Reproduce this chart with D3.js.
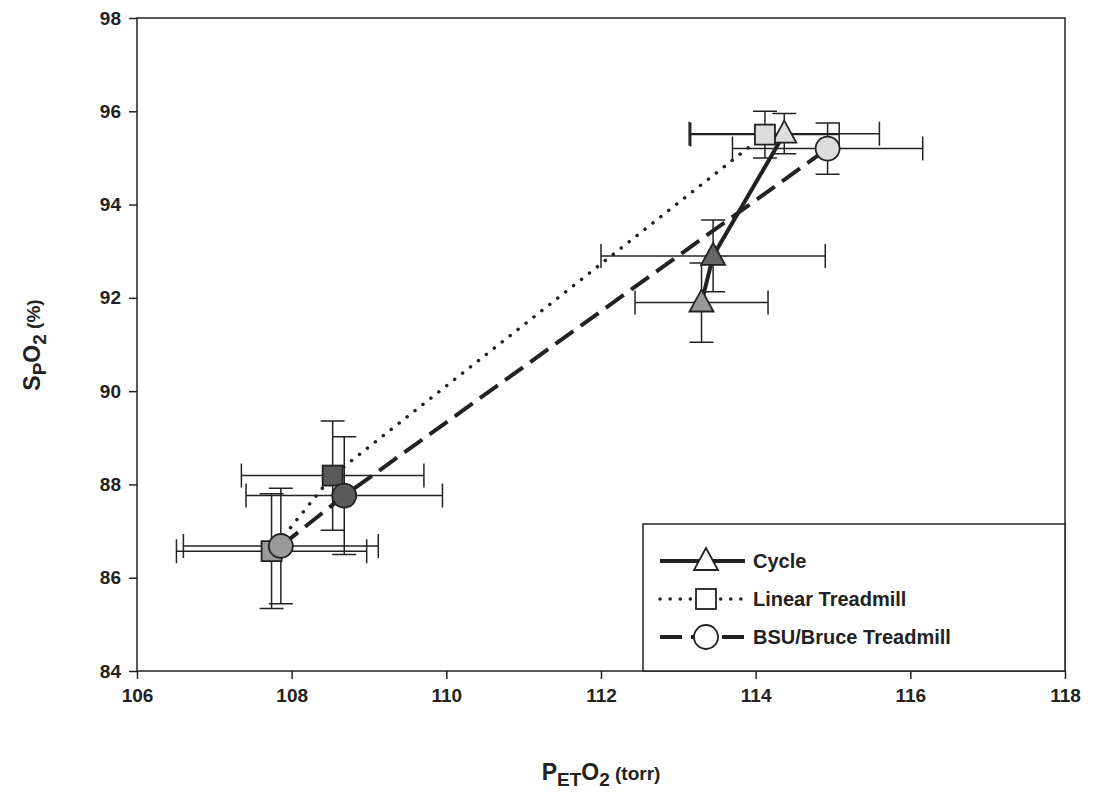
<!DOCTYPE html><html><head><meta charset="utf-8"><script src="https://cdn.jsdelivr.net/npm/d3@7"></script>
<style>body{margin:0;background:#fff}text{font-family:Arial,"Liberation Sans",sans-serif;font-weight:bold;fill:#222}</style></head><body><svg id="c" width="1095" height="793"></svg><script>
const xTicks=[106,108,110,112,114,116,118];
const yTicks=[84,86,88,90,92,94,96,98];
const cycle=[{x:113.3,y:91.9,ex:0.86,ey:0.85,f:"#999"},{x:113.45,y:92.9,ex:1.45,ey:0.77,f:"#666"},{x:114.37,y:95.52,ex:1.23,ey:0.43,f:"#ddd"}];
const linear=[{x:107.74,y:86.57,ex:1.23,ey:1.23,f:"#999"},{x:108.53,y:88.19,ex:1.18,ey:1.17,f:"#5a5a5a"},{x:114.12,y:95.5,ex:0.96,ey:0.5,f:"#ddd"}];
const bsu=[{x:107.86,y:86.68,ex:1.26,ey:1.24,f:"#999"},{x:108.68,y:87.76,ex:1.27,ey:1.26,f:"#5a5a5a"},{x:114.93,y:95.2,ex:1.23,ey:0.55,f:"#ddd"}];
const series=[{name:"Cycle",d:cycle,shape:"tri",dash:null},{name:"Linear Treadmill",d:linear,shape:"sq",dash:"0.1,10"},{name:"BSU/Bruce Treadmill",d:bsu,shape:"ci",dash:"22,9"}];
const svg=d3.select("#c");
const x=d3.scaleLinear().domain([106,118]).range([137,1065]);
const y=d3.scaleLinear().domain([84,98]).range([671,18]);
svg.append("rect").attr("x",137).attr("y",18).attr("width",928).attr("height",653).attr("fill","none").attr("stroke","#222").attr("stroke-width",1.5);
const gx=svg.append("g").attr("transform","translate(0,671)").call(d3.axisBottom(x).tickValues(xTicks).tickSize(8).tickPadding(10));
const gy=svg.append("g").attr("transform","translate(137,0)").call(d3.axisLeft(y).tickValues(yTicks).tickSize(8).tickPadding(8));
[gx,gy].forEach(g=>{g.select(".domain").remove();g.selectAll("line").attr("stroke","#222").attr("stroke-width",1.5);g.selectAll("text").style("font-size","19px").style("font-family","Arial").style("font-weight","bold").attr("fill","#222");});
function marker(g,shape,cx,cy,fill){
 if(shape=="tri")g.append("path").attr("d",`M${cx},${cy-13}L${cx+12},${cy+9}L${cx-12},${cy+9}Z`);
 else if(shape=="sq")g.append("rect").attr("x",cx-10).attr("y",cy-10).attr("width",20).attr("height",20);
 else g.append("circle").attr("cx",cx).attr("cy",cy).attr("r",12);
 g.selectAll(":last-child").attr("fill",fill).attr("stroke","#222").attr("stroke-width",1.8);
}
const gE=svg.append("g"),gL=svg.append("g"),gM=svg.append("g");
series.forEach(s=>{
 s.d.forEach(p=>{
  const c=5;
  gE.append("path").attr("fill","none").attr("stroke","#222").attr("stroke-width",1.5).attr("d",
   `M${x(p.x-p.ex)},${y(p.y)}H${x(p.x+p.ex)}M${x(p.x-p.ex)},${y(p.y)-c-7}V${y(p.y)+c+7}M${x(p.x+p.ex)},${y(p.y)-c-7}V${y(p.y)+c+7}`+
   `M${x(p.x)},${y(p.y-p.ey)}V${y(p.y+p.ey)}M${x(p.x)-12},${y(p.y-p.ey)}h24M${x(p.x)-12},${y(p.y+p.ey)}h24`);
 });
 const dot=s.dash=="0.1,10";
 gL.append("path").datum(s.d).attr("fill","none").attr("stroke","#222").attr("stroke-width",dot?3.5:4)
  .attr("stroke-linecap",dot?"round":"butt").attr("stroke-dasharray",s.dash).attr("d",d3.line().x(p=>x(p.x)).y(p=>y(p.y)));
 s.d.forEach(p=>marker(gM,s.shape,x(p.x),y(p.y),p.f));
});
svg.append("rect").attr("x",643).attr("y",524).attr("width",422).attr("height",147).attr("fill","#fff").attr("stroke","#222").attr("stroke-width",1.5);
series.forEach((s,i)=>{
 const ly=561+i*38;const g=svg.append("g");const dot=s.dash=="0.1,10";
 g.append("line").attr("x1",660).attr("x2",745).attr("y1",ly).attr("y2",ly).attr("stroke","#222").attr("stroke-width",dot?3.5:4).attr("stroke-linecap",dot?"round":"butt").attr("stroke-dasharray",s.dash);
 marker(g,s.shape,706,ly,"#fff");
 g.append("text").attr("x",753).attr("y",ly+7).style("font-size","20px").text(s.name);
});
const xl=svg.append("text").attr("x",601).attr("y",780).attr("text-anchor","middle").style("font-size","23px");
xl.append("tspan").text("P");xl.append("tspan").attr("dy",6).style("font-size","19px").text("ET");xl.append("tspan").attr("dy",-6).text("O");xl.append("tspan").attr("dy",6).style("font-size","19px").text("2");xl.append("tspan").attr("dy",-6).style("font-size","19px").text(" (torr)");
const yl=svg.append("text").attr("transform","translate(40,345) rotate(-90)").attr("text-anchor","middle").style("font-size","23px");
yl.append("tspan").text("S");yl.append("tspan").attr("dy",6).style("font-size","19px").text("P");yl.append("tspan").attr("dy",-6).text("O");yl.append("tspan").attr("dy",6).style("font-size","19px").text("2");yl.append("tspan").attr("dy",-6).style("font-size","19px").text(" (%)");
</script></body></html>
